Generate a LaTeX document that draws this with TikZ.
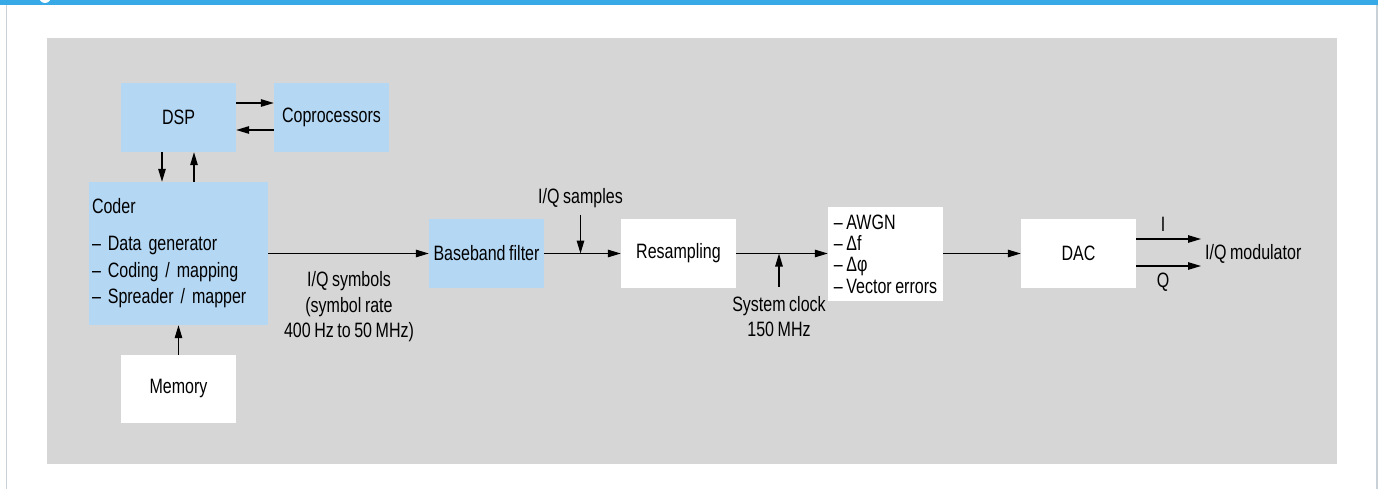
\documentclass[tikz,border=0pt]{standalone}
\usepackage{fontspec}
\setmainfont[FakeStretch=0.77,WordSpace=0.8]{Liberation Sans}
\usetikzlibrary{arrows.meta,positioning}
\definecolor{barblue}{RGB}{54,169,230}
\definecolor{boxblue}{RGB}{180,215,243}
\definecolor{bggray}{RGB}{214,214,214}
\definecolor{framegray}{RGB}{200,208,216}

\begin{document}
\begin{tikzpicture}
		[x=1pt,y=-1pt,font=\fontsize{20.8}{26.5}\selectfont,
		bluebox/.style={fill=boxblue,inner sep=0pt,
			minimum width=115pt,minimum height=69pt},
		whitebox/.style={fill=white,inner sep=0pt,
			minimum width=115pt,minimum height=69pt},
		lbl/.style={inner sep=0pt,align=center},
		arr/.style={line width=1.2pt,-{Triangle[length=13pt,width=7.5pt]}}]
		\clip (0,0) rectangle (1378,489);
		%---------------------marco ------------
		\fill[barblue] (0,0) rectangle (1378,5);
		\fill[white] (45,-3) circle (6pt);
		\draw[framegray,line width=1.3pt] (6.5,5) -- (6.5,489);
		\draw[framegray,line width=1.3pt] (1377,5) -- (1377,489);
		\fill[bggray] (47,38) rectangle (1336.5,464);
		%---------------------bloques ------------
		\node (dsp) at (178.5,117.5) [bluebox] {DSP};
		\node (coproc) at (331.5,117.5) [bluebox] {Coprocessors};
		\node (coder) at (178.5,253.5) [bluebox,minimum width=179pt,
			minimum height=143pt,text width=173pt,align=left]
			{Coder\\[10.5pt]– Data generator\\– Coding / mapping\\– Spreader / mapper};
		\node (memory) at (178.5,389) [whitebox,minimum height=68pt] {Memory};
		\node (bbfilter) at (486.5,253.5) [bluebox] {Baseband filter};
		\node (resamp) at (678.5,253.5) [whitebox] {Resampling};
		\node (errors) at (885.5,254) [whitebox,minimum height=94pt,align=left,
			font=\fontsize{20.8}{21.3}\selectfont]
			{– AWGN\\– Δf\\– Δφ\\– Vector errors};
		\node (dac) at (1078.5,253.5) [whitebox] {DAC};
		%---------------------textos ------------
		\node (symbols) at (349,307) [lbl,font=\fontsize{20.8}{25.5}\selectfont]
			{I/Q symbols\\(symbol rate\\400 Hz to 50 MHz)};
		\node (samples) at (580.5,204) [lbl,anchor=base] {I/Q samples};
		\node (clock) at (779,317) [lbl,font=\fontsize{20.8}{25}\selectfont]
			{System clock\\150 MHz};
		\node (iqmod) at (1205,253.5) [lbl,anchor=west] {I/Q modulator};
		\node (ilbl) at (1163,224) [lbl] {I};
		\node (qlbl) at (1163,282) [lbl] {Q};
		\coordinate (sjoin) at (580.5,253.5);
		\coordinate (cjoin) at (779,253.5);
		%---------------------flechas ------------
		\draw[arr] ([yshift=14.5pt]dsp.east) -- ([yshift=14.5pt]coproc.west);
		\draw[arr] ([yshift=-12.5pt]coproc.west) -- ([yshift=-12.5pt]dsp.east);
		\draw[arr] ([xshift=-16.5pt]dsp.south) -- ([xshift=-16.5pt]coder.north);
		\draw[arr] ([xshift=15.5pt]coder.north) -- ([xshift=15.5pt]dsp.south);
		\draw[arr] (memory.north) -- (coder.south);
		\draw[arr] (coder.east) -- (bbfilter.west);
		\draw[arr] (bbfilter.east) -- (resamp.west);
		\draw[arr,shorten <=6pt] (samples.south) -- (sjoin);
		\draw[arr] (resamp.east) -- (errors.west |- resamp.east);
		\draw[arr,shorten <=10pt] (clock.north) -- (cjoin);
		\draw[arr] (errors.east |- dac.west) -- (dac.west);
		\draw[arr] ([yshift=14.5pt]dac.east) -- ([yshift=14.5pt,xshift=-4pt]iqmod.west);
		\draw[arr] ([yshift=-12.5pt]dac.east) -- ([yshift=-12.5pt,xshift=-4pt]iqmod.west);
\end{tikzpicture}
\end{document}
